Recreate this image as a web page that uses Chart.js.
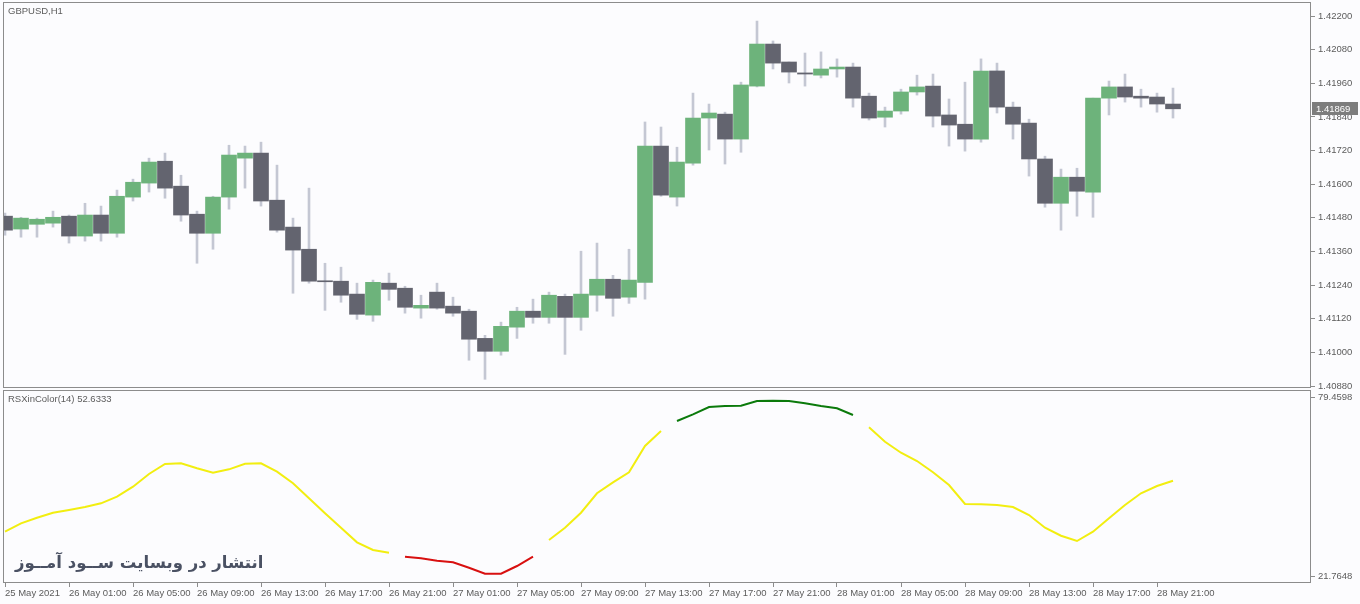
<!DOCTYPE html>
<html>
<head>
<meta charset="utf-8">
<script src="https://cdn.jsdelivr.net/npm/chart.js@4.4.1/dist/chart.umd.min.js"></script>
<style>
html, body { margin: 0; padding: 0; background: #fcfcfe; }
#wrap { position: relative; width: 1360px; height: 604px; overflow: hidden; }
#top { position: absolute; left: 0; top: 0; }
#bot { position: absolute; left: 0; top: 389px; }
#mark { position: absolute; left: 15px; top: 553px; font: bold 16.5px "DejaVu Sans"; color: #4a5163; white-space: nowrap; }
</style>
</head>
<body>
<div id="wrap">
  <canvas id="top" width="1360" height="389"></canvas>
  <canvas id="bot" width="1360" height="215"></canvas>
  <div id="mark" dir="rtl">انتشار در وبسایت ســود آمــوز</div>
</div>
<script>
// GBPUSD H1, one bar per hour starting 25 May 2021 21:00
const timeLabels = ['25 May 2021', '26 May 01:00', '26 May 05:00', '26 May 09:00', '26 May 13:00',
    '26 May 17:00', '26 May 21:00', '27 May 01:00', '27 May 05:00', '27 May 09:00', '27 May 13:00',
    '27 May 17:00', '27 May 21:00', '28 May 01:00', '28 May 05:00', '28 May 09:00', '28 May 13:00',
    '28 May 17:00', '28 May 21:00'];

const opens = [1.41486, 1.41440, 1.41457, 1.41461, 1.41486, 1.41415, 1.41490, 1.41425, 1.41554, 1.41604,
    1.41682, 1.41593, 1.41493, 1.41425, 1.41554, 1.41693, 1.41711, 1.41543, 1.41447, 1.41368,
    1.41254, 1.41254, 1.41208, 1.41133, 1.41247, 1.41229, 1.41158, 1.41215, 1.41165, 1.41147,
    1.41050, 1.41004, 1.41090, 1.41147, 1.41125, 1.41200, 1.41125, 1.41204, 1.41261, 1.41197,
    1.41250, 1.41736, 1.41554, 1.41675, 1.41836, 1.41850, 1.41761, 1.41950, 1.42100, 1.42036,
    1.41997, 1.41989, 1.42011, 1.42018, 1.41914, 1.41839, 1.41861, 1.41929, 1.41950, 1.41847,
    1.41814, 1.41761, 1.42004, 1.41875, 1.41818, 1.41690, 1.41532, 1.41625, 1.41572, 1.41907,
    1.41947, 1.41914, 1.41911, 1.41886];
const highs = [1.41497, 1.41482, 1.41479, 1.41504, 1.41490, 1.41532, 1.41522, 1.41579, 1.41618, 1.41693,
    1.41711, 1.41632, 1.41504, 1.41557, 1.41739, 1.41736, 1.41750, 1.41668, 1.41479, 1.41586,
    1.41318, 1.41304, 1.41247, 1.41258, 1.41283, 1.41236, 1.41204, 1.41247, 1.41197, 1.41154,
    1.41061, 1.41108, 1.41161, 1.41190, 1.41215, 1.41208, 1.41361, 1.41390, 1.41275, 1.41368,
    1.41822, 1.41804, 1.41732, 1.41925, 1.41886, 1.41857, 1.41964, 1.42182, 1.42111, 1.42036,
    1.42068, 1.42072, 1.42047, 1.42032, 1.41925, 1.41875, 1.41939, 1.41989, 1.41993, 1.41904,
    1.41964, 1.42047, 1.42032, 1.41893, 1.41832, 1.41700, 1.41654, 1.41657, 1.41907, 1.41968,
    1.41993, 1.41939, 1.41925, 1.41943];
const lows = [1.41418, 1.41411, 1.41411, 1.41447, 1.41390, 1.41397, 1.41397, 1.41411, 1.41540, 1.41572,
    1.41550, 1.41468, 1.41318, 1.41368, 1.41511, 1.41586, 1.41522, 1.41429, 1.41211, 1.41247,
    1.41150, 1.41179, 1.41118, 1.41111, 1.41186, 1.41140, 1.41122, 1.41154, 1.41129, 1.40972,
    1.40904, 1.40990, 1.41050, 1.41104, 1.41104, 1.40993, 1.41079, 1.41147, 1.41129, 1.41175,
    1.41190, 1.41557, 1.41522, 1.41668, 1.41722, 1.41672, 1.41714, 1.41947, 1.42011, 1.41961,
    1.41950, 1.41979, 1.41982, 1.41875, 1.41829, 1.41804, 1.41850, 1.41918, 1.41804, 1.41736,
    1.41718, 1.41750, 1.41854, 1.41761, 1.41629, 1.41518, 1.41436, 1.41486, 1.41482, 1.41847,
    1.41893, 1.41875, 1.41857, 1.41836];
const closes = [1.41436, 1.41479, 1.41475, 1.41482, 1.41415, 1.41490, 1.41425, 1.41557, 1.41607, 1.41679,
    1.41586, 1.41490, 1.41425, 1.41554, 1.41704, 1.41711, 1.41540, 1.41436, 1.41365, 1.41254,
    1.41252, 1.41204, 1.41136, 1.41250, 1.41225, 1.41161, 1.41168, 1.41158, 1.41140, 1.41047,
    1.41004, 1.41093, 1.41147, 1.41125, 1.41204, 1.41125, 1.41208, 1.41261, 1.41193, 1.41258,
    1.41736, 1.41561, 1.41679, 1.41836, 1.41854, 1.41761, 1.41954, 1.42100, 1.42032, 1.42000,
    1.41993, 1.42011, 1.42018, 1.41907, 1.41836, 1.41861, 1.41929, 1.41947, 1.41843, 1.41811,
    1.41761, 1.42004, 1.41875, 1.41814, 1.41690, 1.41532, 1.41625, 1.41575, 1.41907, 1.41947,
    1.41911, 1.41907, 1.41886, 1.41869];

// RSXinColor(14), one value per bar
const rsx = [36.24, 38.94, 40.74, 42.35, 43.22, 44.18, 45.37, 47.49, 50.71, 54.79,
    58.01, 58.23, 56.63, 55.21, 56.30, 58.11, 58.23, 55.53, 51.80, 46.98,
    42.15, 37.52, 32.83, 30.35, 29.48, 28.20, 27.68, 26.91, 26.40, 24.66,
    22.73, 22.73, 25.21, 28.20, 33.57, 37.52, 42.35, 48.59, 52.12, 55.34,
    63.80, 68.62, 71.84, 73.99, 76.34, 76.66, 76.76, 78.27, 78.37, 78.27,
    77.53, 76.66, 75.92, 73.77, 69.81, 65.18, 61.64, 58.97, 55.34, 51.26,
    45.15, 45.05, 44.82, 44.18, 41.61, 37.52, 34.95, 33.25, 36.24, 40.55,
    44.82, 48.59, 50.93, 52.6333];
const redBars = [25, 33];    // oversold run, drawn red
const greenBars = [42, 53];  // overbought run, drawn green

const priceTicks = [1.40880, 1.41000, 1.41120, 1.41240, 1.41360, 1.41480, 1.41600,
    1.41720, 1.41840, 1.41960, 1.42080, 1.42200];
const rsxTicks = [21.7648, 79.4598];
const lastPrice = 1.41869;

const GREEN = '#6db37b', DARK = '#63646f', WICK = '#c4c7d3', AXIS = '#8c8c8c', TXT = '#5c5c5c';
const FONT = { family: 'Liberation Sans', size: 9.5 };
const idx = opens.map((_, i) => i);

function timeAxis(show) {
    return {
        type: 'linear', min: -0.125, max: 81.625, offset: false, display: show,
        afterBuildTicks: s => { s.ticks = timeLabels.map((_, k) => ({ value: k * 4 })); },
        ticks: { autoSkip: false, maxRotation: 0, align: 'start', padding: 1, color: TXT, font: FONT,
            callback: (v, k) => timeLabels[k] },
        grid: { drawOnChartArea: false, tickLength: 4, color: AXIS },
        border: { display: false },
        afterFit: s => { s.height = show ? 21 : 0; s.paddingLeft = 0; s.paddingRight = 0; }
    };
}

function valueAxis(min, max, ticks, digits) {
    return {
        type: 'linear', position: 'right', min, max,
        afterBuildTicks: s => { s.ticks = ticks.map(v => ({ value: v })); },
        ticks: { padding: 3, color: TXT, font: FONT, callback: v => v.toFixed(digits) },
        grid: { drawOnChartArea: false, tickLength: 4, color: AXIS },
        border: { display: false },
        afterFit: s => { s.width = 49; s.paddingTop = 0; s.paddingBottom = 0; }
    };
}

// frame round the plot, the panel title and the last price box
const panel = {
    id: 'panel',
    afterDraw(c, args, opts) {
        const { ctx, chartArea: a } = c;
        ctx.save();
        ctx.strokeStyle = AXIS;
        ctx.lineWidth = 1;
        ctx.strokeRect(a.left + 0.5, a.top + 0.5, a.right - a.left - 1, a.bottom - a.top - 1);
        ctx.font = '9.5px "Liberation Sans"';
        ctx.textBaseline = 'middle';
        ctx.fillStyle = TXT;
        ctx.fillText(opts.title, a.left + 5, a.top + 9);
        if (opts.last) {
            const y = Math.round(c.scales.y.getPixelForValue(opts.last));
            ctx.fillStyle = '#7d7d7d';
            ctx.fillRect(a.right + 1, y - 7, 46, 13);
            ctx.fillStyle = '#ffffff';
            ctx.fillText(opts.last.toFixed(5), a.right + 5, y);
        }
        ctx.restore();
    }
};

Chart.defaults.animation = false;
Chart.defaults.responsive = false;
Chart.defaults.plugins.legend.display = false;
Chart.defaults.plugins.tooltip.enabled = false;

new Chart(document.getElementById('top'), {
    type: 'bar',
    data: {
        datasets: [
            {
                data: idx.map(i => ({ x: i, y: [opens[i], closes[i]] })),
                backgroundColor: idx.map(i => closes[i] > opens[i] ? GREEN : DARK),
                barThickness: 15, minBarLength: 1, grouped: false, borderWidth: 0
            },
            {
                data: idx.map(i => ({ x: i, y: [lows[i], highs[i]] })),
                backgroundColor: WICK, barThickness: 2, grouped: false, borderWidth: 0
            }
        ]
    },
    options: {
        layout: { padding: { left: 3, top: 2, right: 0, bottom: 1 } },
        scales: { x: timeAxis(false), y: valueAxis(1.40873, 1.42250, priceTicks, 5) },
        plugins: { panel: { title: 'GBPUSD,H1', last: lastPrice } }
    },
    plugins: [panel]
});

const part = (keep) => idx.map(i => ({ x: i, y: keep(i) ? rsx[i] : null }));
const inRange = (i, r) => i >= r[0] && i <= r[1];

new Chart(document.getElementById('bot'), {
    type: 'line',
    data: {
        datasets: [
            { data: part(i => !inRange(i, redBars) && !inRange(i, greenBars)), borderColor: '#f2ee10' },
            { data: part(i => inRange(i, redBars)), borderColor: '#d81010' },
            { data: part(i => inRange(i, greenBars)), borderColor: '#0b7a0b' }
        ]
    },
    options: {
        datasets: { line: { borderWidth: 2, pointRadius: 0, tension: 0, spanGaps: false } },
        layout: { padding: { left: 3, top: 1, right: 0, bottom: 0 } },
        scales: { x: timeAxis(true), y: valueAxis(19.74, 81.81, rsxTicks, 4) },
        plugins: { panel: { title: 'RSXinColor(14) 52.6333' } }
    },
    plugins: [panel]
});
</script>
</body>
</html>
